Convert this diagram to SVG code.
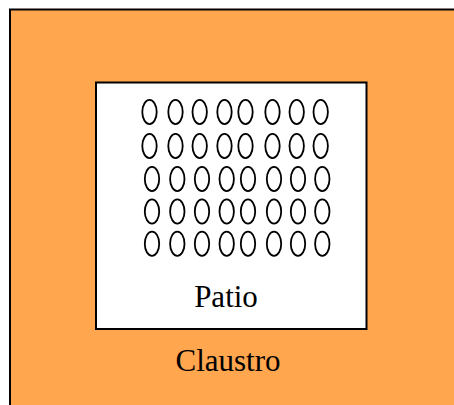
<svg xmlns="http://www.w3.org/2000/svg" width="454" height="405" viewBox="0 0 454 405">
  <style>
    .cloister { fill: #FFA64F; stroke: #000; stroke-width: 2; }
    .patio { fill: #fff; stroke: #000; stroke-width: 2; }
    .col { fill: none; stroke: #000; stroke-width: 1.8; }
    .label { font-family: "Liberation Serif", "Times New Roman", serif; font-size: 31px; fill: #000; text-anchor: middle; }
  </style>
  <defs>
    <ellipse id="c" class="col" cx="0" cy="0" rx="7.2" ry="12.1"/>
  </defs>

  <g id="claustro">
    <rect class="cloister" x="10" y="9.5" width="460" height="410"/>
    <text class="label" x="228" y="370.5">Claustro</text>
  </g>

  <g id="patio">
    <rect class="patio" x="96" y="82.5" width="270.5" height="246.5"/>
    <text class="label" x="226" y="307">Patio</text>
  </g>

  <!-- rows of columns inside the courtyard -->
  <g id="columns">
    <g transform="translate(0,112)">
      <use href="#c" x="149.5"/><use href="#c" x="175.5"/><use href="#c" x="199.7"/><use href="#c" x="224.5"/>
      <use href="#c" x="245.5"/><use href="#c" x="272.5"/><use href="#c" x="296.7"/><use href="#c" x="320.7"/>
    </g>
    <g transform="translate(0,146)">
      <use href="#c" x="149.5"/><use href="#c" x="175.5"/><use href="#c" x="199.7"/><use href="#c" x="224.5"/>
      <use href="#c" x="245.5"/><use href="#c" x="272.5"/><use href="#c" x="296.7"/><use href="#c" x="320.7"/>
    </g>
    <g transform="translate(0,179)">
      <use href="#c" x="152"/><use href="#c" x="177.3"/><use href="#c" x="202"/><use href="#c" x="226.7"/>
      <use href="#c" x="248"/><use href="#c" x="274"/><use href="#c" x="298"/><use href="#c" x="322.3"/>
    </g>
    <g transform="translate(0,211.5)">
      <use href="#c" x="152"/><use href="#c" x="177.3"/><use href="#c" x="202"/><use href="#c" x="226.7"/>
      <use href="#c" x="248"/><use href="#c" x="274"/><use href="#c" x="298"/><use href="#c" x="322.3"/>
    </g>
    <g transform="translate(0,243.7)">
      <use href="#c" x="152"/><use href="#c" x="177.3"/><use href="#c" x="202"/><use href="#c" x="226.7"/>
      <use href="#c" x="248"/><use href="#c" x="274"/><use href="#c" x="298"/><use href="#c" x="322.3"/>
    </g>
  </g>
</svg>
